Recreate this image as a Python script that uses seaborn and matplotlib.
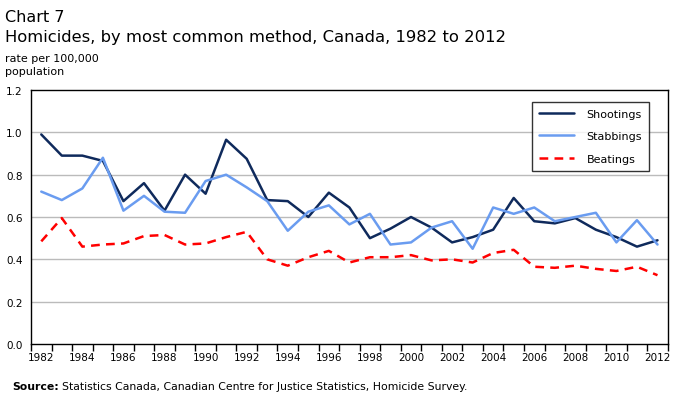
import numpy as np
import pandas as pd
import matplotlib
matplotlib.use('Agg')
import matplotlib.pyplot as plt
import seaborn as sns

years = list(range(1982, 2013))
shootings = [0.99, 0.89, 0.89, 0.865, 0.675, 0.76, 0.63, 0.80, 0.71, 0.965,
             0.875, 0.68, 0.675, 0.60, 0.715, 0.645, 0.50, 0.545, 0.60, 0.55,
             0.48, 0.505, 0.54, 0.69, 0.58, 0.57, 0.595, 0.54, 0.505, 0.46, 0.49]
stabbings = [0.72, 0.68, 0.735, 0.88, 0.63, 0.70, 0.625, 0.62, 0.77, 0.80,
             0.74, 0.675, 0.535, 0.625, 0.655, 0.565, 0.615, 0.47, 0.48, 0.55,
             0.58, 0.45, 0.645, 0.615, 0.645, 0.58, 0.60, 0.62, 0.48, 0.585, 0.47]
beatings = [0.485, 0.595, 0.46, 0.47, 0.475, 0.51, 0.515, 0.47, 0.475, 0.505,
            0.53, 0.40, 0.37, 0.41, 0.44, 0.385, 0.41, 0.41, 0.42, 0.395,
            0.40, 0.385, 0.43, 0.445, 0.365, 0.36, 0.37, 0.355, 0.345, 0.365, 0.325]

df = pd.DataFrame({'Year': years, 'Shootings': shootings,
                   'Stabbings': stabbings, 'Beatings': beatings})
df['pos'] = range(len(df))

sns.set_style('white')
plt.rcParams['font.family'] = ['DejaVu Sans']
plt.rcParams['text.color'] = 'black'
plt.rcParams['xtick.color'] = 'black'
plt.rcParams['ytick.color'] = 'black'

fig = plt.figure(figsize=(6.8, 4.02), dpi=100)
ax = fig.add_axes([0.0456, 0.1418, 0.9364, 0.6318])

sns.lineplot(data=df, x='pos', y='Shootings', color='#0f2a5c', lw=1.8,
             label='Shootings', ax=ax)
sns.lineplot(data=df, x='pos', y='Stabbings', color='#6a9cf0', lw=1.8,
             label='Stabbings', ax=ax)
sns.lineplot(data=df, x='pos', y='Beatings', color='#ff0000', lw=1.8,
             label='Beatings', ax=ax)
ax.lines[-1].set_dashes((3.5, 2.5))

ax.set_xlim(-0.5, len(years) - 0.5)
ax.set_ylim(0, 1.2)
ax.set_yticks(np.arange(0, 1.21, 0.2))
ax.set_yticklabels(['%.1f' % v for v in np.arange(0, 1.21, 0.2)], fontsize=7.5)
ax.tick_params(axis='y', length=0, pad=6)
for v in np.arange(0.2, 1.1, 0.2):
    ax.axhline(v, color='#bbbbbb', lw=1, zorder=0)

ax.set_xticks(df['pos'][::2])
ax.set_xticklabels([str(y) for y in years[::2]], fontsize=7.5)
ax.set_xticks(np.arange(-0.5, len(years), 1), minor=True)
ax.tick_params(axis='x', which='major', length=0, pad=6)
ax.tick_params(axis='x', which='minor', length=5, width=1, color='black',
               direction='out', bottom=True)
ax.set_xlabel('')
ax.set_ylabel('')
for s in ax.spines.values():
    s.set_color('black')
    s.set_linewidth(1)

leg = ax.legend(loc='upper right', bbox_to_anchor=(0.979, 0.975), fontsize=8,
                frameon=True, fancybox=False, handlelength=3.2,
                labelspacing=1.15, borderpad=0.6, handletextpad=1.1,
                labelcolor='black')
leg.get_frame().set_edgecolor('black')
leg.get_frame().set_linewidth(1)

fig.text(0.007, 0.975, 'Chart 7', fontsize=11.5, va='top')
fig.text(0.007, 0.925, 'Homicides, by most common method, Canada, 1982 to 2012',
         fontsize=11.8, va='top')
fig.text(0.007, 0.865, 'rate per 100,000\npopulation', fontsize=8, va='top',
         linespacing=1.3)

src = fig.text(0.018, 0.03, 'Source:', fontsize=7.8, fontweight='bold', va='baseline')
fig.canvas.draw()
bb = src.get_window_extent()
fig.text(bb.x1 / fig.bbox.width + 0.004, 0.03,
         'Statistics Canada, Canadian Centre for Justice Statistics, Homicide Survey.',
         fontsize=7.8, va='baseline')

fig.savefig('out.png', dpi=100)
